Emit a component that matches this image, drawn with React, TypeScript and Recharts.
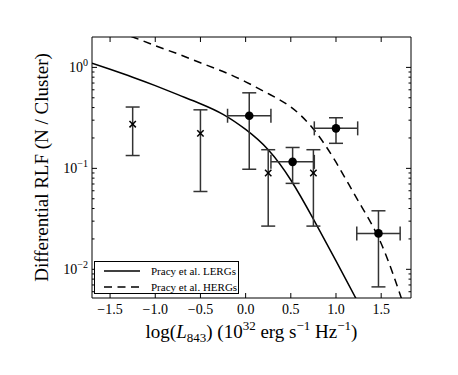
import { ComposedChart, Line, Scatter, ErrorBar, XAxis, YAxis, Label } from 'recharts'

// model curves (Pracy et al.)
const curveX = [-1.7, -1.5, -1.25, -1.0, -0.75, -0.5, -0.25, 0.0, 0.25, 0.5, 0.75, 1.0, 1.25, 1.5, 1.75]
const lergY = [1.1, 0.957, 0.8, 0.66, 0.537, 0.437, 0.343, 0.243, 0.153, 0.0767, 0.0314, 0.0121, 0.0046, null, null]
const hergY = [2.63, 2.34, 2.0, 1.64, 1.36, 1.11, 0.91, 0.72, 0.55, 0.405, 0.245, 0.115, 0.047, 0.018, 0.0044]

// crosses (y errors only)
const crossX = [-1.25, -0.5, 0.25, 0.75]
const crossY = [0.274, 0.222, 0.09, 0.09]
const crossLow = [0.134, 0.059, 0.0268, 0.0268]
const crossHigh = [0.405, 0.38, 0.153, 0.153]

// filled circles (x and y errors)
const circleX = [0.04, 0.52, 1.0, 1.47]
const circleY = [0.332, 0.116, 0.249, 0.0227]
const circleLow = [0.098, 0.071, 0.177, 0.0067]
const circleHigh = [0.56, 0.161, 0.317, 0.038]
const circleXErr = [0.24, 0.24, 0.24, 0.24]

const xTicks = [-1.5, -1.0, -0.5, 0.0, 0.5, 1.0, 1.5]
const yTicks = [
  0.006, 0.007, 0.008, 0.009, 0.01, 0.02, 0.03, 0.04, 0.05, 0.06, 0.07, 0.08, 0.09,
  0.1, 0.2, 0.3, 0.4, 0.5, 0.6, 0.7, 0.8, 0.9, 1,
]

const curveData = curveX.map((x, i) => ({ x, lerg: lergY[i], herg: hergY[i] }))
const crossData = crossX.map((x, i) => ({
  x,
  y: crossY[i],
  yErr: [crossY[i] - crossLow[i], crossHigh[i] - crossY[i]],
}))
const circleData = circleX.map((x, i) => ({
  x,
  y: circleY[i],
  xErr: circleXErr[i],
  yErr: [circleY[i] - circleLow[i], circleHigh[i] - circleY[i]],
}))

const FONT = "'Liberation Serif', 'Times New Roman', serif"
const INK = '#000'
const DASH = '8 5.5'

const isMajor = (v: number) => Math.abs(Math.log10(v) - Math.round(Math.log10(v))) < 1e-6
const fmtX = (v: number) => (v < 0 ? '\u2212' : '') + Math.abs(v).toFixed(1)

const BottomTick = (p: any) => (
  <g>
    <line x1={p.x} x2={p.x} y1={p.y} y2={p.y - 5} stroke={INK} />
    <text x={p.x} y={p.y + 16} textAnchor="middle" fontFamily={FONT} fontSize={14} fill={INK}>
      {fmtX(p.payload.value)}
    </text>
  </g>
)

const TopTick = (p: any) => <line x1={p.x} x2={p.x} y1={p.y} y2={p.y + 5} stroke={INK} />

const LeftTick = (p: any) => {
  const v = p.payload.value
  const major = isMajor(v)
  const exp = Math.round(Math.log10(v))
  return (
    <g>
      <line x1={p.x} x2={p.x + (major ? 5 : 2.5)} y1={p.y} y2={p.y} stroke={INK} />
      {major && (
        <text x={p.x - 4} y={p.y + 5} textAnchor="end" fontFamily={FONT} fontSize={14} fill={INK}>
          10
          <tspan dy={-6} fontSize={10}>
            {exp < 0 ? '\u2212' + Math.abs(exp) : String(exp)}
          </tspan>
        </text>
      )}
    </g>
  )
}

const RightTick = (p: any) => {
  const major = isMajor(p.payload.value)
  return <line x1={p.x} x2={p.x - (major ? 5 : 2.5)} y1={p.y} y2={p.y} stroke={INK} />
}

const Dot = (p: any) => <circle cx={p.cx} cy={p.cy} r={4.3} fill={INK} />

const Cross = (p: any) => {
  const s = 3.2
  return (
    <g stroke="#000" strokeWidth={1.5}>
      <line x1={p.cx - s} y1={p.cy - s} x2={p.cx + s} y2={p.cy + s} />
      <line x1={p.cx - s} y1={p.cy + s} x2={p.cx + s} y2={p.cy - s} />
    </g>
  )
}

const XLabel = ({ viewBox }: any) => (
  <text
    x={viewBox.x + viewBox.width / 2}
    y={viewBox.y + 40}
    textAnchor="middle"
    fontFamily={FONT}
    fontSize={19}
    fill={INK}
  >
    log(<tspan fontStyle="italic">L</tspan>
    <tspan dy={4} fontSize={13}>843</tspan>
    <tspan dy={-4}>) (10</tspan>
    <tspan dy={-8} fontSize={13}>32</tspan>
    <tspan dy={8}> erg s</tspan>
    <tspan dy={-8} fontSize={13}>{'\u22121'}</tspan>
    <tspan dy={8}> Hz</tspan>
    <tspan dy={-8} fontSize={13}>{'\u22121'}</tspan>
    <tspan dy={8}>)</tspan>
  </text>
)

const YLabel = ({ viewBox }: any) => {
  const cx = viewBox.x + 48
  const cy = viewBox.y + viewBox.height / 2
  return (
    <text
      x={cx}
      y={cy}
      transform={`rotate(-90 ${cx} ${cy})`}
      textAnchor="middle"
      fontFamily={FONT}
      fontSize={19}
      fill={INK}
    >
      Differential RLF (N / Cluster)
    </text>
  )
}

function LegendBox() {
  const rows = [
    { name: 'Pracy et al. LERGs', dash: undefined },
    { name: 'Pracy et al. HERGs', dash: DASH },
  ]
  return (
    <div
      style={{
        position: 'absolute',
        left: 94,
        top: 261,
        width: 143,
        height: 31,
        border: '1px solid #000',
        background: '#fff',
        fontFamily: FONT,
        fontSize: 11,
      }}
    >
      {rows.map((r, i) => (
        <div key={r.name} style={{ position: 'absolute', left: 8, top: 1 + i * 16, height: 15, display: 'flex', alignItems: 'center' }}>
          <svg width={38} height={14}>
            <line x1={1} x2={37} y1={7} y2={7} stroke={INK} strokeWidth={1.5} strokeDasharray={r.dash} />
          </svg>
          <span style={{ marginLeft: 10, whiteSpace: 'nowrap' }}>{r.name}</span>
        </div>
      ))}
    </div>
  )
}

export default function App() {
  return (
    <div style={{ position: 'absolute', left: 0, top: 0, width: 458, height: 375, background: '#fff' }}>
      <ComposedChart width={458} height={375} data={curveData} margin={{ top: 36, right: 46, bottom: 0, left: 0 }}>
        <XAxis
          xAxisId="x"
          dataKey="x"
          type="number"
          domain={[-1.7, 1.83]}
          allowDataOverflow
          ticks={xTicks}
          interval={0}
          height={77}
          tickLine={false}
          tickSize={0}
          tickMargin={0}
          axisLine={{ stroke: INK }}
          tick={<BottomTick />}
        >
          <Label content={<XLabel />} />
        </XAxis>
        <XAxis
          xAxisId="xt"
          orientation="top"
          dataKey="x"
          type="number"
          domain={[-1.7, 1.83]}
          allowDataOverflow
          ticks={xTicks}
          interval={0}
          height={1}
          tickLine={false}
          tickSize={0}
          tickMargin={0}
          axisLine={{ stroke: INK }}
          tick={<TopTick />}
        />
        <YAxis
          yAxisId="y"
          scale="log"
          type="number"
          domain={[0.0052, 2]}
          allowDataOverflow
          ticks={yTicks}
          interval={0}
          width={92}
          tickLine={false}
          tickSize={0}
          tickMargin={0}
          axisLine={{ stroke: INK }}
          tick={<LeftTick />}
        >
          <Label content={<YLabel />} />
        </YAxis>
        <YAxis
          yAxisId="yr"
          orientation="right"
          scale="log"
          type="number"
          domain={[0.0052, 2]}
          allowDataOverflow
          ticks={yTicks}
          interval={0}
          width={1}
          tickLine={false}
          tickSize={0}
          tickMargin={0}
          axisLine={{ stroke: INK }}
          tick={<RightTick />}
        />
        <Line
          xAxisId="x"
          yAxisId="y"
          dataKey="lerg"
          type="natural"
          stroke={INK}
          strokeWidth={1.5}
          dot={false}
          activeDot={false}
          isAnimationActive={false}
        />
        <Line
          xAxisId="x"
          yAxisId="y"
          dataKey="herg"
          type="natural"
          stroke={INK}
          strokeWidth={1.5}
          strokeDasharray={DASH}
          dot={false}
          activeDot={false}
          isAnimationActive={false}
        />
        <Scatter xAxisId="x" yAxisId="y" data={crossData} dataKey="y" shape={<Cross />} isAnimationActive={false}>
          <ErrorBar dataKey="yErr" direction="y" width={7} stroke="#333" strokeWidth={1.5} />
        </Scatter>
        <Scatter xAxisId="x" yAxisId="y" data={circleData} dataKey="y" shape={<Dot />} isAnimationActive={false}>
          <ErrorBar dataKey="yErr" direction="y" width={7} stroke="#333" strokeWidth={1.5} />
          <ErrorBar dataKey="xErr" direction="x" width={7} stroke="#333" strokeWidth={1.5} />
        </Scatter>
      </ComposedChart>
      <LegendBox />
    </div>
  )
}
